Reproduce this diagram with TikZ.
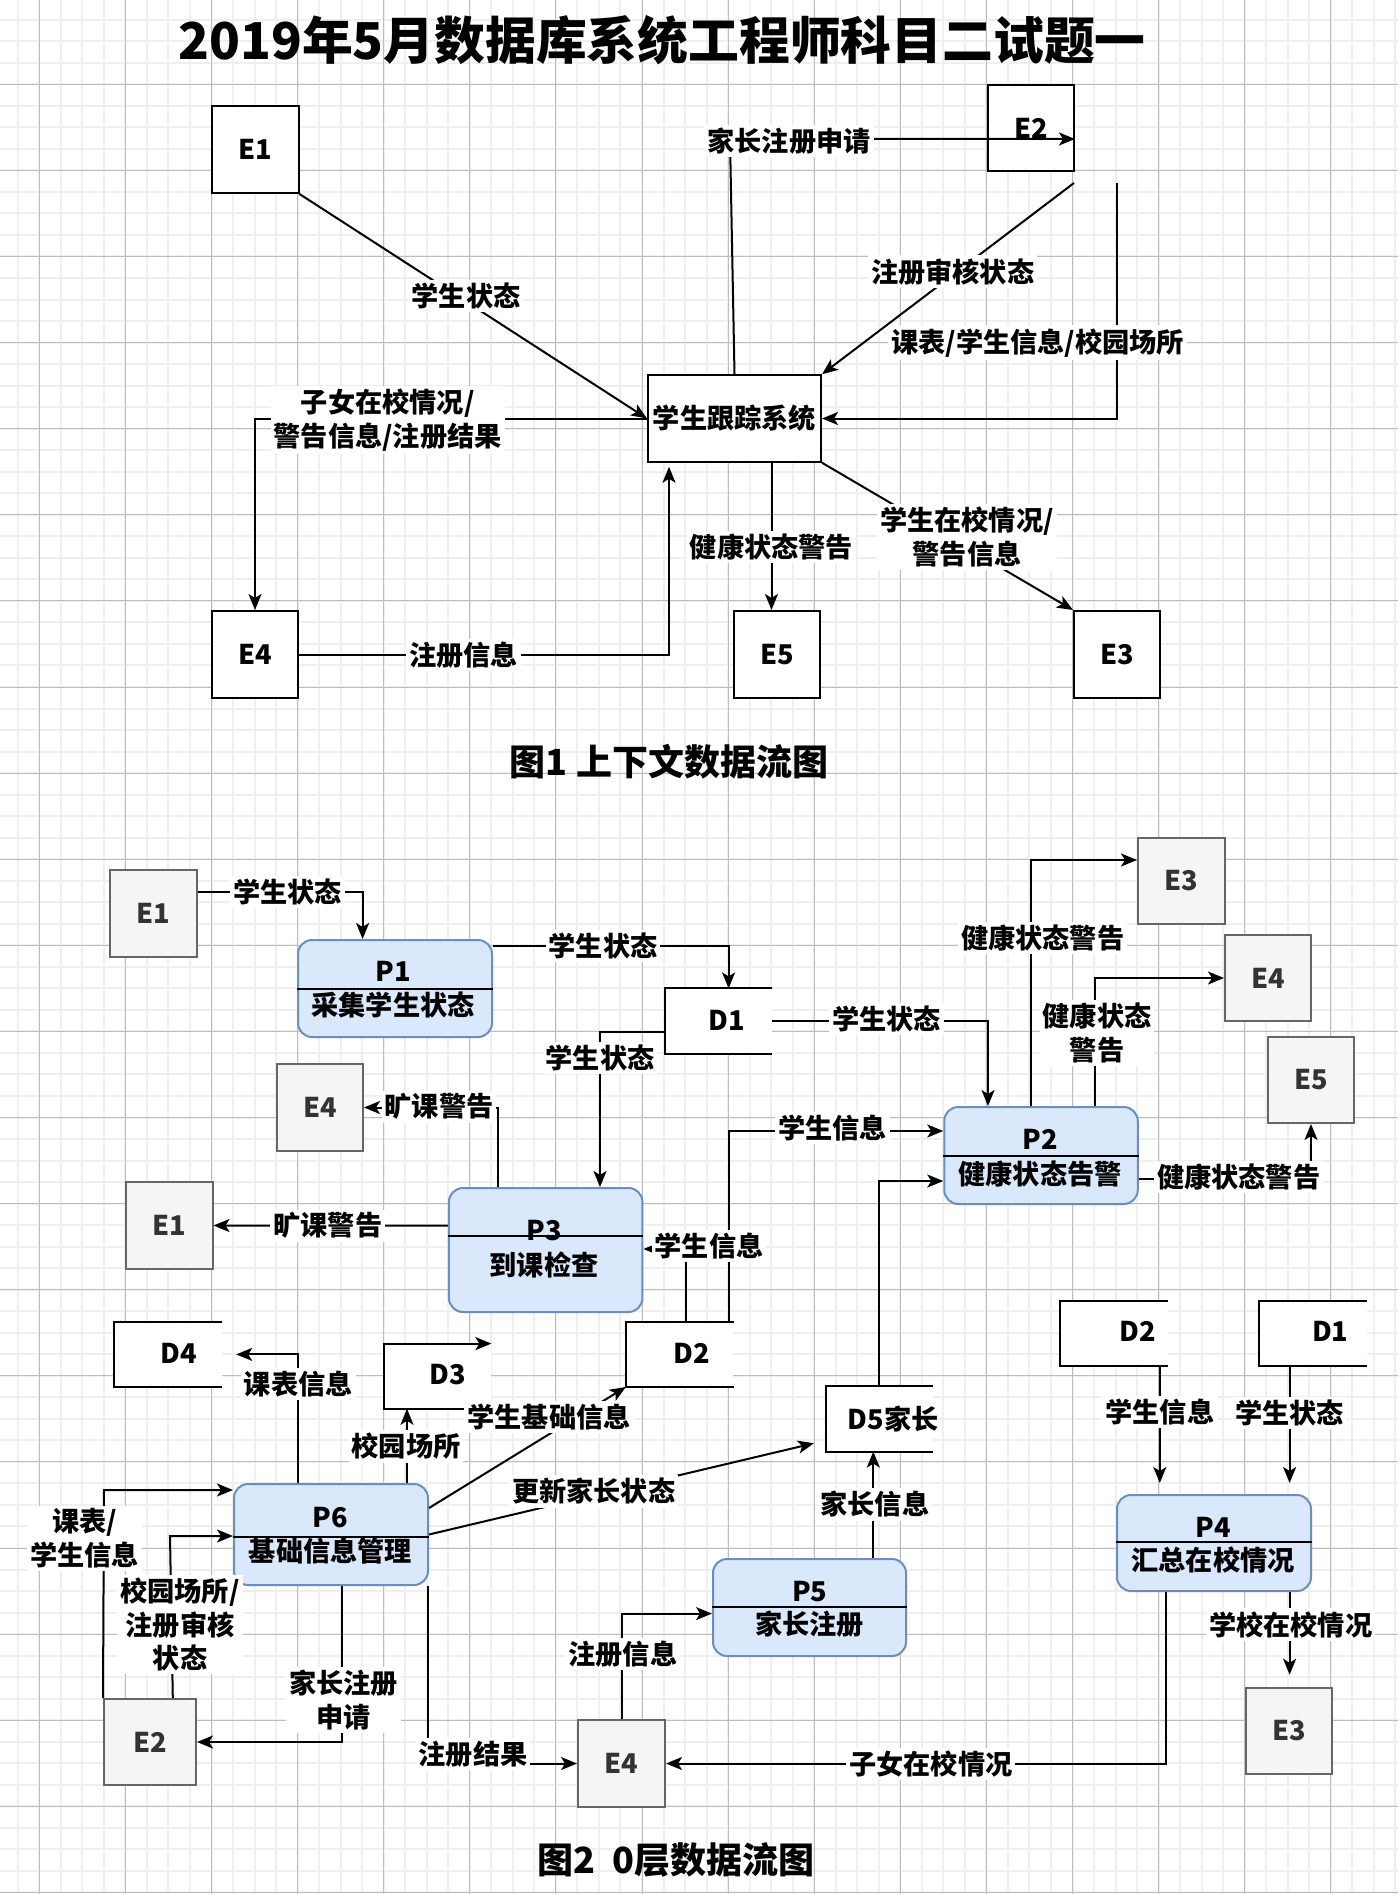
\documentclass[tikz,border=0pt]{standalone}
\usepackage{fontspec}
\setmainfont{Noto Sans CJK SC}
\usetikzlibrary{arrows.meta}
\definecolor{procfill}{HTML}{DAE8FC}
\definecolor{procline}{HTML}{6C8EBF}
\definecolor{entfill}{HTML}{F5F5F5}
\definecolor{entline}{HTML}{666666}
\definecolor{enttext}{HTML}{333333}
\definecolor{gridminor}{HTML}{EFEFEF}
\definecolor{gridmajor}{HTML}{BDBDBD}
\newcommand\lblfont{\fontsize{13.6pt}{16.8pt}\selectfont\bfseries}
\newcommand\boxfont{\fontsize{13.6pt}{16.8pt}\selectfont\bfseries}
\newcommand\titfont{\fontsize{25.4pt}{29pt}\selectfont\bfseries}
\newcommand\mycapfont{\fontsize{18pt}{22pt}\selectfont\bfseries}
\begin{document}
\begin{tikzpicture}[x=0.5pt,y=-0.5pt,
  ent1/.style={draw=black, fill=white, line width=1pt, inner sep=0pt, font=\boxfont},
  ent/.style={draw=entline, fill=entfill, line width=1pt, inner sep=0pt, text=enttext, font=\boxfont},
  proc/.style={draw=procline, fill=procfill, line width=1pt, rounded corners=7pt, inner sep=0pt},
  store/.style={fill=white, inner sep=0pt, minimum width=53.5pt, minimum height=32.2pt},
  txt/.style={inner sep=0pt, font=\boxfont},
  flow/.style={line width=1pt, -{Stealth[length=8pt,width=6.5pt,inset=2pt]}},
  plain/.style={line width=1pt},
  lbl/.style={fill=white, inner sep=1.5pt, font=\lblfont, align=center}]
\useasboundingbox (0,0) rectangle (1398,1894);
% ---------- grid ----------
\begin{scope}
\clip (0,0) rectangle (1398,1894);
\fill[white] (0,0) rectangle (1398,1894);
\foreach \i in {0,...,66} \draw[gridminor, line width=1pt] ({-3.75+21.525*\i},0) -- ({-3.75+21.525*\i},1894);
\foreach \i in {0,...,89} \draw[gridminor, line width=1pt] (0,{-1.8+21.525*\i}) -- (1398,{-1.8+21.525*\i});
\foreach \i in {0,...,15} \draw[gridmajor, line width=0.5pt] ({39.3+86.1*\i},0) -- ({39.3+86.1*\i},1894);
\foreach \i in {0,...,21} \draw[gridmajor, line width=0.5pt] (0,{84.3+86.1*\i}) -- (1398,{84.3+86.1*\i});
\end{scope}
% ---------- title ----------
\node[font=\titfont, inner sep=0pt] (title) at (662,40) {2019年5月数据库系统工程师科目二试题一};
% ---------- figure 1 ----------
\node[ent1, minimum width=43.5pt, minimum height=43.5pt] (E1) at (255,149.5) {E1};
\node[ent1, minimum width=43pt, minimum height=43pt] (E2) at (1031,128) {E2};
\node[ent1, minimum width=86.5pt, minimum height=43.25pt] (sys) at (734.5,418.5) {学生跟踪系统};
\node[ent1, minimum width=43pt, minimum height=43.5pt] (E4f) at (255,654.5) {E4};
\node[ent1, minimum width=43pt, minimum height=43.5pt] (E5f) at (777,654.5) {E5};
\node[ent1, minimum width=43pt, minimum height=43.5pt] (E3f) at (1117,654.5) {E3};
\coordinate (c1) at (1074,183);
\coordinate (c2) at (1117,183);
\draw[flow] (E1.south east) -- (sys.west);
\draw[flow] (sys.north) -- (730,139) -- (E2.east |- 0,139);
\draw[flow] (c1) -- (sys.north east);
\draw[flow] (c2) -- (1117,0 |- sys.east) -- (sys.east);
\draw[flow] (sys.west) -- (255,0 |- sys.west) -- (E4f.north);
\draw[flow, shorten >=2pt] (E4f.east) -- (669,0 |- E4f.east) -- (669,0 |- sys.south);
\draw[flow] (771.5,0 |- sys.south) -- (771.5,0 |- E5f.north);
\draw[flow] (sys.south east) -- (E3f.north west);
\node[lbl] (f1a) at (466,296) {学生状态};
\node[lbl] (f1b) at (789,141) {家长注册申请};
\node[lbl] (f1c) at (952.7,271.7) {注册审核状态};
\node[lbl] (f1d) at (1037.7,342.7) {课表/学生信息/校园场所};
\node[lbl] (f1e) at (387.7,420) {子女在校情况/\\警告信息/注册结果};
\node[lbl] (f1f) at (463.6,655) {注册信息};
\node[lbl] (f1g) at (771.5,546.7) {健康状态警告};
\node[lbl] (f1h) at (967,537) {学生在校情况/\\警告信息};
\node[font=\mycapfont, inner sep=0pt] (cap1) at (669,762) {图1 上下文数据流图};
% ---------- figure 2: entities ----------
\node[ent, minimum width=43.5pt, minimum height=43.5pt] (E1a) at (153.5,913.5) {E1};
\node[ent, minimum width=43.5pt, minimum height=43pt] (E3a) at (1181.5,881) {E3};
\node[ent, minimum width=43pt, minimum height=43.5pt] (E4a) at (320,1107.5) {E4};
\node[ent, minimum width=43pt, minimum height=43pt] (E4b) at (1268,978) {E4};
\node[ent, minimum width=43pt, minimum height=43pt] (E5) at (1311,1080) {E5};
\node[ent, minimum width=43.5pt, minimum height=43.5pt] (E1b) at (169,1225.5) {E1};
\node[ent, minimum width=46pt, minimum height=43pt] (E2b) at (150,1742) {E2};
\node[ent, minimum width=43.5pt, minimum height=43.5pt] (E4c) at (621.5,1763.5) {E4};
\node[ent, minimum width=43pt, minimum height=43.25pt] (E3b) at (1289,1731) {E3};
% ---------- processes ----------
\node[proc, minimum width=97pt, minimum height=48.5pt] (P1) at (395,988.5) {};
\draw[plain] (P1.west |- 0,989) -- (P1.east |- 0,989);
\node[txt] (P1a) at (393,971.7) {P1};
\node[txt] (P1b) at (393,1005) {采集学生状态};
\node[proc, minimum width=96.75pt, minimum height=62pt] (P3) at (545.7,1250) {};
\draw[plain] (P3.west |- 0,1236) -- (P3.east |- 0,1236);
\node[txt] (P3a) at (544,1230.7) {P3};
\node[txt] (P3b) at (544,1265) {到课检查};
\node[proc, minimum width=96.75pt, minimum height=48.5pt] (P2) at (1041,1155.5) {};
\draw[plain] (P2.west |- 0,1155.7) -- (P2.east |- 0,1155.7);
\node[txt] (P2a) at (1040,1139.3) {P2};
\node[txt] (P2b) at (1040,1174) {健康状态告警};
\node[proc, minimum width=97pt, minimum height=50.5pt] (P6) at (331,1534.5) {};
\draw[plain] (P6.west |- 0,1537) -- (P6.east |- 0,1537);
\node[txt] (P6a) at (330.4,1518) {P6};
\node[txt] (P6b) at (330.4,1551) {基础信息管理};
\node[proc, minimum width=96.5pt, minimum height=48.5pt] (P5) at (809.5,1607.5) {};
\draw[plain] (P5.west |- 0,1607) -- (P5.east |- 0,1607);
\node[txt] (P5a) at (809.7,1592) {P5};
\node[txt] (P5b) at (809.7,1624.6) {家长注册};
\node[proc, minimum width=97pt, minimum height=48pt] (P4) at (1214,1543) {};
\draw[plain] (P4.west |- 0,1542) -- (P4.east |- 0,1542);
\node[txt] (P4a) at (1213,1527.5) {P4};
\node[txt] (P4b) at (1213,1560) {汇总在校情况};
% ---------- data stores ----------
\node[store] (D1a) at (718.5,1021) {};
\draw[plain] (D1a.north east) -- (D1a.north west) -- (D1a.south west) -- (D1a.south east);
\node[txt] (D1at) at (727,1020) {D1};
\node[store] (D4) at (168.35,1354.4) {};
\draw[plain] (D4.north east) -- (D4.north west) -- (D4.south west) -- (D4.south east);
\node[txt] (D4t) at (178.6,1353.6) {D4};
\node[store] (D3) at (437.5,1376.2) {};
\draw[flow] (D3.south east) -- (D3.south west) -- (D3.north west) -- (D3.north east);
\node[txt] (D3t) at (447.8,1375) {D3};
\node[store] (D2a) at (679.75,1354.4) {};
\draw[plain] (D2a.north east) -- (D2a.north west) -- (D2a.south west) -- (D2a.south east);
\node[txt] (D2at) at (691.6,1353.6) {D2};
\node[store] (D5) at (879.5,1419) {};
\draw[plain] (D5.north east) -- (D5.north west) -- (D5.south west) -- (D5.south east);
\node[txt] (D5t) at (893,1419) {D5家长};
\node[store] (D2b) at (1114,1333.1) {};
\draw[plain] (D2b.north east) -- (D2b.north west) -- (D2b.south west) -- (D2b.south east);
\node[txt] (D2bt) at (1138,1331.7) {D2};
\node[store] (D1b) at (1313.25,1333.1) {};
\draw[plain] (D1b.north east) -- (D1b.north west) -- (D1b.south west) -- (D1b.south east);
\node[txt] (D1bt) at (1330.3,1331.7) {D1};
% ---------- flows ----------
\draw[flow] (E1a.east |- 0,891.7) -- (362.6,891.7) -- (362.6,0 |- P1.north);
\draw[flow] (P1.east |- 0,945.7) -- (728.6,945.7) -- (728.6,0 |- D1a.north);
\draw[flow] (D1a.west |- 0,1031.7) -- (600,1031.7) -- (600,0 |- P3.north);
\draw[flow] (D1a.east |- 0,1021) -- (988,1021) -- (988,0 |- P2.north);
\draw[flow] (498,0 |- P3.north) -- (498,0 |- E4a.east) -- (E4a.east);
\draw[flow] (P3.west |- 0,1225.7) -- (E1b.east);
\draw[flow] (686,0 |- D2a.north) -- (686,1249) -- (P3.east |- 0,1249);
\draw[flow] (728.8,0 |- D2a.north) -- (728.8,1131) -- (P2.west |- 0,1131);
\draw[flow] (879.4,0 |- D5.north) -- (879.4,1181) -- (P2.west |- 0,1181);
\draw[flow] (1031,0 |- P2.north) -- (1031,860) -- (E3a.west |- 0,860);
\draw[flow] (1095,0 |- P2.north) -- (1095,0 |- E4b.west) -- (E4b.west);
\draw[flow] (P2.east |- 0,1179.3) -- (1311,1179.3) -- (E5.south);
\draw[flow] (298.2,0 |- P6.north) -- (298.2,0 |- D4.east) -- ([xshift=7pt]D4.east);
\draw[flow] (407,0 |- P6.north) -- (407,0 |- D3.south);
\draw[flow] (P6.east |- 0,1508) -- (D2a.south west);
\draw[flow, shorten >=6pt] (P6.east |- 0,1534.5) -- (D5.west |- 0,1440.5);
\draw[flow] (E2b.north west) -- (104,1490) -- (P6.west |- 0,1490);
\draw[flow] (172.8,0 |- E2b.north) -- (170,1536) -- (P6.west |- 0,1536);
\draw[flow] (341.5,0 |- P6.south) -- (341.5,0 |- E2b.east) -- (E2b.east);
\draw[flow] (427.7,0 |- P6.south) -- (427.7,0 |- E4c.west) -- (E4c.west);
\draw[flow] (E4c.north) -- (621.5,1613.6) -- (P5.west |- 0,1613.6);
\draw[flow] (873.3,0 |- P5.north) -- (873.3,0 |- D5.south);
\draw[flow, shorten >=5.5pt] (1159.8,0 |- D2b.south) -- (1159.8,0 |- P4.north);
\draw[flow, shorten >=5.5pt] (1289.6,0 |- D1b.south) -- (1289.6,0 |- P4.north);
\draw[flow, shorten >=6pt] (1289.6,0 |- P4.south) -- (1289.6,0 |- E3b.north);
\draw[flow] (1166,0 |- P4.south) -- (1166,0 |- E4c.east) -- (E4c.east);
% ---------- flow labels ----------
\node[lbl] (g1) at (287.6,891.7) {学生状态};
\node[lbl] (g2) at (603,945.7) {学生状态};
\node[lbl] (g3) at (600,1058) {学生状态};
\node[lbl] (g4) at (886.5,1019) {学生状态};
\node[lbl] (g5) at (439,1106.7) {旷课警告};
\node[lbl] (g6) at (327.8,1225.7) {旷课警告};
\node[lbl] (g7) at (709,1246) {学生信息};
\node[lbl] (g8) at (832.6,1128.3) {学生信息};
\node[lbl] (g10) at (1042.7,938.3) {健康状态警告};
\node[lbl] (g11) at (1097,1033) {健康状态\\警告};
\node[lbl] (g12) at (1238.7,1177.3) {健康状态警告};
\node[lbl] (g13) at (298.2,1384) {课表信息};
\node[lbl] (g14) at (406,1446.4) {校园场所};
\node[lbl] (g15) at (549,1417) {学生基础信息};
\node[lbl] (g16) at (593.75,1491.4) {更新家长状态};
\node[lbl] (g17) at (84.8,1538.4) {课表/\\学生信息};
\node[lbl] (g18) at (180,1624.6) {校园场所/\\注册审核\\状态};
\node[lbl] (g19) at (343.75,1700) {家长注册\\申请};
\node[lbl] (g20) at (473,1754) {注册结果};
\node[lbl] (g21) at (622.8,1654) {注册信息};
\node[lbl] (g22) at (874.8,1504.4) {家长信息};
\node[lbl] (g23) at (1159.8,1412) {学生信息};
\node[lbl] (g24) at (1289.6,1413) {学生状态};
\node[lbl] (g25) at (1290.6,1624.6) {学校在校情况};
\node[lbl] (g26) at (930.8,1764) {子女在校情况};
\node[font=\mycapfont, inner sep=0pt] (cap2) at (676,1859.5) {图2\ \ 0层数据流图};
\end{tikzpicture}
\end{document}
